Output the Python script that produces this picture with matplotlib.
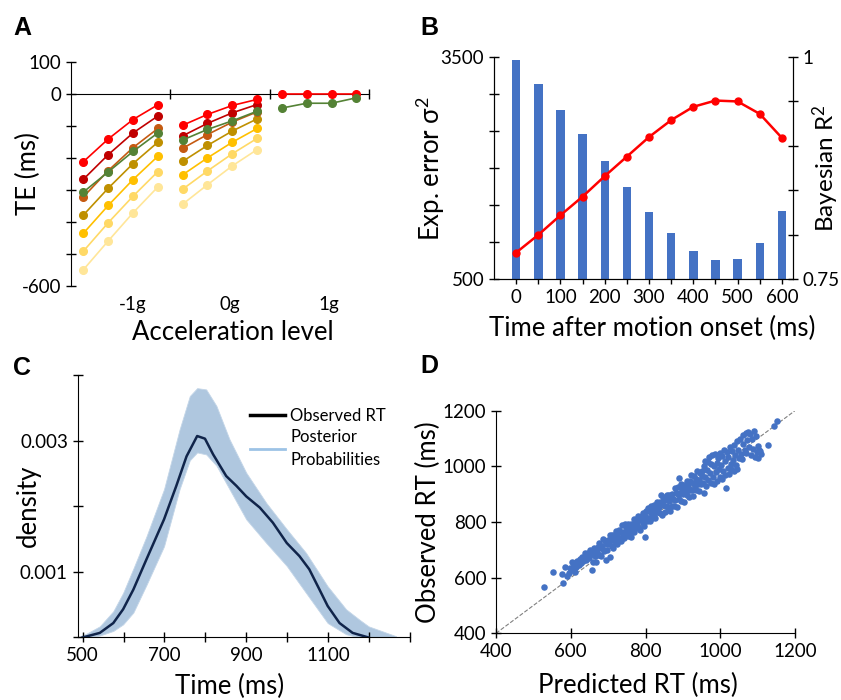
import numpy as np
import matplotlib.pyplot as plt
from matplotlib.lines import Line2D
from matplotlib.transforms import blended_transform_factory

plt.rcParams['font.family'] = ['Lato', 'DejaVu Sans']
plt.rcParams['mathtext.fontset'] = 'custom'
plt.rcParams['mathtext.rm'] = 'Lato'
plt.rcParams['mathtext.default'] = 'regular'

# ---------------- Panel A data: TE (ms) per acceleration level ----------------
accel_levels = ['-1g', '0g', '1g']
te_colors = ['#FFE699', '#FFD966', '#FFC000', '#BF9000', '#C55A11', '#C00000', '#FF0000', '#548235']
# one list per series, one sub-list per acceleration group (None = no data)
te_lightest = [[-550, -460, -372, -291], [-345, -284, -225, -174], None]
te_light = [[-492, -403, -320, -243], [-298, -241, -187, -139], None]
te_yellow = [[-436, -349, -268, -195], [-253, -200, -151, -108], None]
te_darkyellow = [[-379, -295, -218, -151], [-211, -161, -116, -78], None]
te_orange = [[-322, -240, -168, -108], [-170, -127, -88, -56], None]
te_darkred = [[-267, -190, -122, -69], [-131, -92, -59, -33], None]
te_red = [[-212, -141, -80, -34], [-98, -64, -36, -17], [0, 0, 0, 0]]
te_green = [[-307, -244, -180, -122], [-144, -111, -84, -54], [-44, -29, -29, -12]]
te_series = [te_lightest, te_light, te_yellow, te_darkyellow, te_orange, te_darkred, te_red, te_green]

# ---------------- Panel B data ----------------
time_after = [0, 50, 100, 150, 200, 250, 300, 350, 400, 450, 500, 550, 600]
exp_error = [3455, 3140, 2790, 2458, 2103, 1739, 1407, 1120, 886, 760, 778, 994, 1425]
bayes_r2 = [0.780, 0.800, 0.822, 0.843, 0.866, 0.888, 0.910, 0.929, 0.944, 0.951, 0.950, 0.936, 0.909]

# ---------------- Panel C data ----------------
obs_t = [500, 542, 575, 599, 624, 656, 699, 729, 754, 780, 799, 819, 851, 876, 900, 933,
         965, 999, 1030, 1054, 1079, 1099, 1128, 1160, 1199]
obs_density = [0.0, 0.00007, 0.00022, 0.00043, 0.00073, 0.00119, 0.0018, 0.00231, 0.00276,
               0.00307, 0.00303, 0.00279, 0.00246, 0.00231, 0.00215, 0.00198, 0.00175,
               0.00144, 0.00124, 0.00104, 0.00073, 0.00048, 0.00022, 0.00007, 0.0]
band_t = [494, 510, 542, 575, 599, 624, 656, 699, 737, 762, 780, 802, 827, 859, 900, 949,
          999, 1046, 1099, 1144, 1177, 1199, 1266]
band_upper = [0.00002, 0.00006, 0.00017, 0.00040, 0.00068, 0.00105, 0.00154, 0.00226, 0.00317,
              0.00368, 0.00380, 0.00378, 0.00353, 0.00302, 0.00251, 0.00205, 0.00165,
              0.00129, 0.00078, 0.00043, 0.00027, 0.00017, 0.00002]
band_lower = [0.0, 0.0, 0.00003, 0.0001, 0.0002, 0.00038, 0.0008, 0.00139, 0.00226, 0.00270,
              0.00282, 0.00279, 0.00262, 0.00226, 0.0018, 0.00144, 0.00109, 0.00068,
              0.00022, 0.00005, 0.0, 0.0, 0.0]

# ---------------- Panel D data: (predicted RT, observed RT) in ms ----------------
rt_points = [
    (528, 565), (552, 622), (576, 612), (580, 582), (585, 639), (590, 605), (595, 618),
    (598, 633), (602, 657), (604, 628), (607, 639), (610, 622), (612, 651), (615, 640),
    (618, 660), (621, 657), (623, 645), (626, 668), (628, 652), (630, 675), (633, 660),
    (636, 670), (639, 687), (641, 662), (644, 678), (647, 690), (650, 672), (652, 699),
    (654, 684), (656, 627),
    (658, 686), (660, 658), (662, 707), (664, 679), (666, 700), (668, 658), (670, 692),
    (672, 711), (674, 682), (676, 724), (678, 680), (680, 706), (682, 676), (684, 715),
    (686, 739), (688, 700), (690, 695), (692, 733), (694, 663), (696, 720), (698, 698),
    (700, 735), (702, 720), (704, 754), (705, 675), (707, 736), (709, 715), (711, 755),
    (713, 706), (715, 736), (717, 754), (719, 730), (721, 768), (723, 722), (725, 751),
    (727, 744), (729, 771), (731, 735), (733, 765), (735, 730), (737, 788), (739, 752),
    (741, 764), (743, 744), (745, 791), (747, 756), (749, 783), (750, 766),
    (752, 749), (754, 792), (756, 765), (758, 783), (760, 746), (762, 794), (764, 782),
    (766, 768), (768, 812), (770, 763), (772, 794), (774, 780), (776, 811), (778, 791),
    (780, 821), (782, 780), (784, 811), (786, 770), (788, 808), (790, 823), (792, 796),
    (794, 833), (796, 786), (798, 822), (799, 745), (800, 811), (802, 838), (804, 804),
    (806, 851), (808, 815), (810, 838), (812, 803), (814, 831), (816, 858), (818, 814),
    (820, 843), (822, 825), (824, 861), (826, 813), (828, 859), (830, 839), (832, 872),
    (834, 835), (836, 855), (838, 872), (840, 834), (841, 897), (842, 868), (844, 826),
    (846, 889), (848, 860), (850, 879),
    (852, 836), (854, 881), (856, 857), (858, 897), (860, 853), (862, 874), (864, 898),
    (866, 841), (868, 886), (870, 859), (872, 902), (874, 883), (876, 857), (878, 921),
    (880, 878), (882, 905), (884, 854), (886, 901), (888, 924), (890, 957), (890, 882),
    (892, 903), (894, 935), (896, 875), (898, 918), (900, 902), (902, 934), (904, 871),
    (906, 931), (908, 914), (910, 948), (912, 898), (914, 930), (916, 889), (918, 947),
    (920, 916), (922, 968), (924, 914), (926, 939), (928, 892), (930, 964), (932, 931),
    (934, 956), (936, 914), (938, 982), (940, 935), (942, 952), (944, 913), (946, 977),
    (948, 935), (950, 967),
    (952, 985), (954, 940), (956, 1002), (957, 903), (958, 961), (960, 1020), (962, 930),
    (964, 988), (966, 1015), (968, 952), (970, 1034), (972, 975), (974, 940), (976, 1008),
    (978, 1040), (980, 962), (982, 1000), (984, 935), (986, 1045), (988, 978), (990, 1012),
    (992, 948), (994, 1030), (996, 990), (998, 962), (1000, 1048), (1002, 1005), (1004, 955),
    (1006, 1038), (1008, 985), (1010, 1058), (1012, 968), (1014, 1020), (1016, 923),
    (1018, 1050), (1020, 995), (1022, 1035), (1024, 972), (1026, 1068), (1028, 1010),
    (1030, 990), (1032, 1055), (1034, 1022), (1036, 985), (1038, 1078), (1040, 1040),
    (1042, 1005), (1044, 1090), (1046, 989), (1048, 1060), (1050, 1030), (1052, 1098),
    (1055, 1045), (1058, 1025), (1060, 1080),
    (1062, 1112), (1065, 1060), (1068, 1120), (1070, 1048), (1072, 1095), (1075, 1125),
    (1078, 1070), (1080, 1118), (1082, 1040), (1085, 1100), (1088, 1062), (1090, 1128),
    (1092, 1035), (1095, 1108), (1098, 1050), (1100, 1072), (1102, 1030), (1105, 1060),
    (1107, 1055), (1110, 1045), (1129, 1077), (1143, 1145), (1152, 1164),
]
pred_rt = [p for p, o in rt_points]
obs_rt = [o for p, o in rt_points]

fig = plt.figure(figsize=(8.41, 7.0), dpi=100)
tick_fs = 13.5
label_fs = 18.5

def letter(x, y, s):
    fig.text(x / 841, 1 - y / 700, s, fontsize=18, fontweight='bold',
             family='Liberation Sans', va='top', ha='left')

# ---------------- A ----------------
axA = fig.add_axes([0.0844, 0.5919, 0.3556, 0.3195])
for series, color in zip(te_series, te_colors):
    for g, vals in enumerate(series):
        if vals is None:
            continue
        xs = [4 * g + k + 0.5 for k in range(len(vals))]
        axA.plot(xs, vals, '-o', color=color, lw=1.2, ms=5.5, zorder=3)
axA.set_xlim(0, 12.05)
axA.set_ylim(-600, 100)
for s in ['top', 'right']:
    axA.spines[s].set_visible(False)
axA.spines['bottom'].set_position(('data', 0))
axA.spines['bottom'].set_bounds(0, 12)
axA.set_xticks([4, 8, 12])
axA.set_xticklabels([])
axA.set_yticks(np.arange(-600, 101, 100))
axA.set_yticklabels(['-600', '', '', '', '', '', '0', '100'])
axA.tick_params(direction='inout', length=7, width=1, labelsize=tick_fs)
trA = blended_transform_factory(axA.transData, axA.transAxes)
for lab, xc in zip(accel_levels, [2.5, 6.4, 10.4]):
    axA.text(xc, -0.045, lab, transform=trA, ha='center', va='top', fontsize=tick_fs)
axA.text(0.54, -0.155, 'Acceleration level', transform=axA.transAxes, ha='center',
         va='top', fontsize=label_fs)
axA.set_ylabel('TE (ms)', fontsize=label_fs)
axA.yaxis.set_label_coords(-0.10, 0.5)
letter(13, 16, 'A')

# ---------------- B ----------------
axB = fig.add_axes([0.5874, 0.601, 0.3555, 0.3176])
axB.bar(time_after, exp_error, width=19, color='#4472C4', zorder=2)
axB.set_xlim(-50, 625)
axB.set_ylim(500, 3500)
axB.set_yticks(np.arange(500, 3501, 500))
axB.set_yticklabels(['500', '', '', '', '', '', '3500'])
axB.set_xticks(time_after)
axB.set_xticklabels([str(t) if t % 100 == 0 else '' for t in time_after])
axB.spines['top'].set_visible(False)
axB.tick_params(direction='inout', length=7, width=1, labelsize=tick_fs)
axB.set_xlabel('Time after motion onset (ms)', fontsize=label_fs)
axB.xaxis.set_label_coords(0.53, -0.165)
axB.set_ylabel('Exp. error σ$^{2}$', fontsize=label_fs)
axB.yaxis.set_label_coords(-0.157, 0.5)
axB2 = axB.twinx()
axB2.plot(time_after, bayes_r2, '-o', color='#FF0000', lw=1.8, ms=5, zorder=3)
axB2.set_ylim(0.75, 1.0)
axB2.set_yticks(np.arange(0.75, 1.001, 0.05))
axB2.set_yticklabels(['0.75', '', '', '', '', '1'])
axB2.spines['top'].set_visible(False)
axB2.tick_params(direction='inout', length=7, width=1, labelsize=tick_fs)
axB2.set_ylabel('Bayesian R$^{2}$', fontsize=17.5)
axB2.yaxis.set_label_coords(1.06, 0.5)
letter(420, 16, 'B')

# ---------------- C ----------------
axC = fig.add_axes([0.0924, 0.0893, 0.395, 0.375])
axC.fill_between(band_t, band_lower, band_upper, color='#AFC7DF', lw=0.6,
                 edgecolor='#C4D6E8', zorder=1)
axC.plot(obs_t, obs_density, color='#10244A', lw=1.8, zorder=3)
axC.set_xlim(488, 1300)
axC.set_ylim(0, 0.004)
axC.set_xticks(np.arange(500, 1301, 100))
axC.set_xticklabels(['500', '', '700', '', '900', '', '1100', '', ''])
axC.set_yticks(np.arange(0, 0.00401, 0.001))
axC.set_yticklabels(['', '0.001', '', '0.003', ''])
for s in ['top', 'right']:
    axC.spines[s].set_visible(False)
axC.tick_params(direction='inout', length=7, width=1, labelsize=tick_fs)
axC.set_xlabel('Time (ms)', fontsize=label_fs)
axC.xaxis.set_label_coords(0.458, -0.138)
axC.set_ylabel('density', fontsize=label_fs)
axC.yaxis.set_label_coords(-0.11, 0.5)
handles = [Line2D([], [], color='black', lw=2.5),
           Line2D([], [], color='#9DC3E6', lw=2)]
leg = axC.legend(handles, ['Observed RT', 'Posterior\nProbabilities'], loc='upper left',
                 bbox_to_anchor=(0.5, 0.9), frameon=False, fontsize=12,
                 handlelength=2.1, handletextpad=0.3, labelspacing=0.3, borderaxespad=0)
for t in leg.get_texts():
    t.set_linespacing(1.55)
letter(13, 356, 'C')

# ---------------- D ----------------
axD = fig.add_axes([0.5898, 0.0953, 0.3555, 0.318])
axD.plot([400, 1200], [400, 1200], ls='--', color='#808080', lw=0.8, zorder=1)
axD.scatter(pred_rt, obs_rt, s=22, color='#4472C4', zorder=2, linewidths=0)
axD.set_xlim(400, 1200)
axD.set_ylim(400, 1200)
axD.set_xticks(np.arange(400, 1201, 200))
axD.set_yticks(np.arange(400, 1201, 200))
for s in ['top', 'right']:
    axD.spines[s].set_visible(False)
axD.tick_params(direction='inout', length=7, width=1, labelsize=tick_fs)
axD.set_xlabel('Predicted RT (ms)', fontsize=label_fs)
axD.xaxis.set_label_coords(0.475, -0.178)
axD.set_ylabel('Observed RT (ms)', fontsize=label_fs)
axD.yaxis.set_label_coords(-0.184, 0.5)
letter(420, 354, 'D')

fig.savefig('out.png', dpi=100)
